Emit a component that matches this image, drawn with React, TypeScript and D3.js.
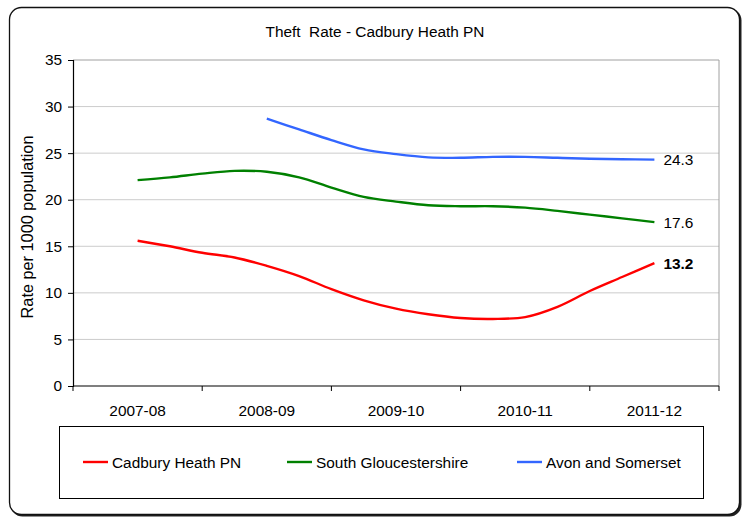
import React, { useEffect, useRef } from 'react';
import * as d3 from 'd3';

const categories = ['2007-08', '2008-09', '2009-10', '2010-11', '2011-12'];
const yTicks = [0, 5, 10, 15, 20, 25, 30, 35];

// quarterly rolling values, 4 steps per financial year
const cadburyHeath = [15.6, 15.0, 14.3, 13.8, 12.9, 11.8, 10.4, 9.2, 8.3, 7.7, 7.3, 7.2, 7.4, 8.5, 10.2, 11.7, 13.2];
const southGlos = [22.1, 22.4, 22.8, 23.1, 23.0, 22.4, 21.3, 20.3, 19.8, 19.4, 19.3, 19.3, 19.15, 18.8, 18.4, 18.0, 17.6];
const avonSomerset = [null, null, null, null, 28.7, 27.55, 26.4, 25.4, 24.9, 24.55, 24.5, 24.6, 24.6, 24.5, 24.4, 24.35, 24.3];

const seriesNames = ['Cadbury Heath PN', 'South Gloucestershire', 'Avon and Somerset'];
const seriesColors = ['#ff0000', '#008000', '#3366ff'];
const endLabels = ['13.2', '17.6', '24.3'];

const W = 747;
const H = 518;
const FONT = 'Liberation Sans, Arial, sans-serif';

const drawChart = (node: SVGSVGElement) => {
  const svg = d3.select(node);
  svg.selectAll('*').remove();

  const left = 73, right = 719, top = 60, bottom = 386;

  // outer frame with shadow
  svg.append('rect')
    .attr('x', 10.5).attr('y', 8.5).attr('width', 731).attr('height', 508)
    .attr('rx', 12).attr('fill', '#222');
  svg.append('rect')
    .attr('x', 9.5).attr('y', 7.5).attr('width', 730).attr('height', 507)
    .attr('rx', 12).attr('fill', '#fff').attr('stroke', '#111').attr('stroke-width', 1.3);

  svg.append('text')
    .attr('x', 375).attr('y', 37)
    .attr('text-anchor', 'middle')
    .style('font', `15.4px ${FONT}`)
    .style('white-space', 'pre')
    .text('Theft  Rate - Cadbury Heath PN');

  const y = d3.scaleLinear().domain([0, 35]).range([bottom, top]);
  const band = d3.scaleBand().domain(categories).range([left, right]);
  const n = cadburyHeath.length;
  const x = d3.scaleLinear()
    .domain([0, n - 1])
    .range([band(categories[0])! + band.bandwidth() / 2, band(categories[categories.length - 1])! + band.bandwidth() / 2]);

  // gridlines
  svg.append('g').selectAll('line')
    .data(yTicks.filter(t => t > 0))
    .enter().append('line')
    .attr('x1', left).attr('x2', right)
    .attr('y1', d => y(d)).attr('y2', d => y(d))
    .attr('stroke', d => (d === 35 ? '#a0a0a0' : '#cccccc'))
    .attr('stroke-width', 1);
  svg.append('line')
    .attr('x1', right).attr('x2', right).attr('y1', top).attr('y2', bottom)
    .attr('stroke', '#a0a0a0');

  // y axis
  const yAxis = svg.append('g')
    .attr('transform', `translate(${left},0)`)
    .call(d3.axisLeft(y).tickValues(yTicks).tickSize(5).tickPadding(6));
  yAxis.select('.domain').attr('stroke', '#000').attr('stroke-width', 1.2);
  yAxis.selectAll('line').attr('stroke', '#000');
  yAxis.selectAll('text').style('font', `15.4px ${FONT}`).attr('fill', '#000');

  // x axis, ticks between categories
  const xAxisG = svg.append('g').attr('transform', `translate(0,${bottom})`);
  xAxisG.append('line')
    .attr('x1', left).attr('x2', right).attr('y1', 0).attr('y2', 0)
    .attr('stroke', '#000').attr('stroke-width', 1.2);
  const boundaries = categories.map(c => band(c)!).concat([right]);
  xAxisG.selectAll('line.tick')
    .data(boundaries)
    .enter().append('line')
    .attr('class', 'tick')
    .attr('x1', d => d).attr('x2', d => d).attr('y1', 0).attr('y2', 5)
    .attr('stroke', '#000');
  xAxisG.selectAll('text')
    .data(categories)
    .enter().append('text')
    .attr('x', d => band(d)! + band.bandwidth() / 2)
    .attr('y', 30)
    .attr('text-anchor', 'middle')
    .style('font', `15.4px ${FONT}`)
    .text(d => d);

  svg.append('text')
    .attr('transform', 'translate(33,227) rotate(-90)')
    .attr('text-anchor', 'middle')
    .style('font', `16.3px ${FONT}`)
    .text('Rate per 1000 population');

  // lines
  const allSeries = [cadburyHeath, southGlos, avonSomerset];
  const line = d3.line<number | null>()
    .defined(d => d !== null)
    .x((d, i) => x(i))
    .y(d => y(d as number))
    .curve(d3.curveCatmullRom.alpha(0.5));

  allSeries.forEach((values, k) => {
    svg.append('path')
      .datum(values)
      .attr('d', line)
      .attr('fill', 'none')
      .attr('stroke', seriesColors[k])
      .attr('stroke-width', 2.4)
      .attr('stroke-linejoin', 'round');

    const last = values[values.length - 1] as number;
    svg.append('text')
      .attr('x', x(n - 1) + 9)
      .attr('y', y(last) + 5.5)
      .style('font', `${k === 0 ? 'bold ' : ''}15.4px ${FONT}`)
      .text(endLabels[k]);
  });

  // legend
  const legend = svg.append('g');
  legend.append('rect')
    .attr('x', 59.5).attr('y', 426.5).attr('width', 644).attr('height', 72)
    .attr('fill', '#fff').attr('stroke', '#000').attr('stroke-width', 1);
  const legendX = [83, 287, 517];
  seriesNames.forEach((name, k) => {
    legend.append('line')
      .attr('x1', legendX[k]).attr('x2', legendX[k] + 25)
      .attr('y1', 462).attr('y2', 462)
      .attr('stroke', seriesColors[k]).attr('stroke-width', 2.4);
    legend.append('text')
      .attr('x', legendX[k] + 29).attr('y', 467.5)
      .style('font', `15.4px ${FONT}`)
      .text(name);
  });
};

const App = () => {
  const ref = useRef<SVGSVGElement>(null);

  useEffect(() => {
    if (ref.current) drawChart(ref.current);
  }, []);

  return (
    <svg
      ref={ref}
      width={W}
      height={H}
      style={{ position: 'absolute', left: 0, top: 0, display: 'block', background: '#fff' }}
    />
  );
};

export default App;
